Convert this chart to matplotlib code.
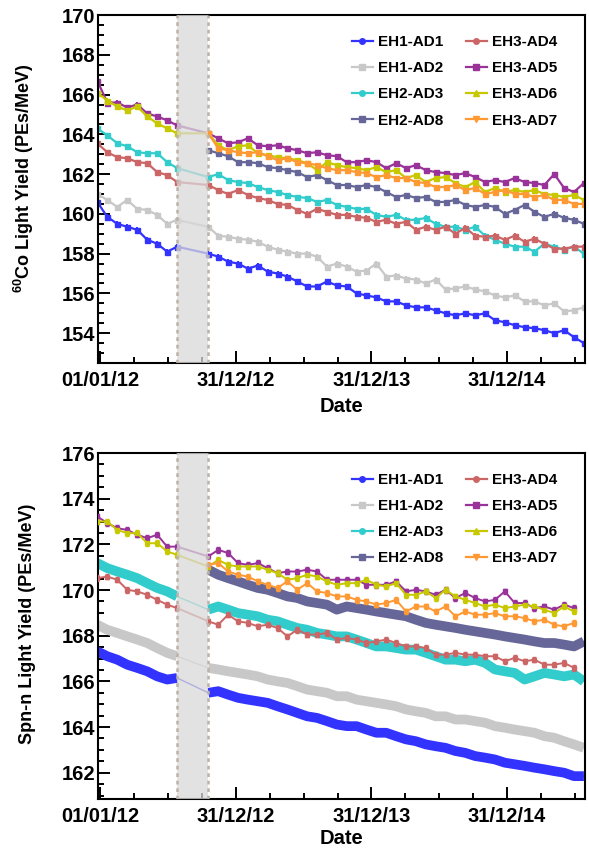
import numpy as np
import pandas as pd
import matplotlib
matplotlib.use("Agg")
import matplotlib.pyplot as plt
import matplotlib.dates as mdates
from matplotlib.lines import Line2D
from matplotlib.ticker import FixedLocator, MultipleLocator

plt.rcParams['font.family'] = ['Liberation Sans', 'DejaVu Sans']
plt.rcParams['font.weight'] = 'bold'
plt.rcParams['mathtext.fontset'] = 'custom'
plt.rcParams['mathtext.rm'] = 'Liberation Sans:bold'
plt.rcParams['mathtext.bf'] = 'Liberation Sans:bold'

# sampling dates (before / after the 2012 installation gap)
dates_1 = pd.date_range('2011-12-24', '2012-07-26', periods=9)
dates_2 = pd.date_range('2012-10-18', '2015-07-26', periods=39)
dates = dates_1.append(dates_2)
gap_start, gap_end = pd.Timestamp('2012-07-26'), pd.Timestamp('2012-10-17')
nan = np.nan
pre = [nan] * 9

labels = ['EH1-AD1', 'EH1-AD2', 'EH2-AD3', 'EH2-AD8',
          'EH3-AD4', 'EH3-AD5', 'EH3-AD6', 'EH3-AD7']
colors = ['#3333ff', '#c8c8c8', '#33cccc', '#666699',
          '#cc6666', '#993399', '#c8c800', '#ff9933']
markers = ['o', 's', 'o', 's', 'o', 's', '^', 'v']

# 60Co light yield (PEs/MeV)
co_ad1 = [160.6, 159.85, 159.5, 159.35, 159.2, 158.7, 158.5, 158.1, 158.35,
          158.0, 157.85, 157.6, 157.5, 157.25, 157.4, 157.1, 157.0, 156.85, 156.6,
          156.35, 156.35, 156.6, 156.4, 156.35, 156.0, 155.9, 155.8, 155.6, 155.6,
          155.4, 155.3, 155.3, 155.15, 155.0, 154.9, 155.0, 154.9, 155.0, 154.65,
          154.55, 154.4, 154.3, 154.25, 154.15, 154.0, 154.15, 153.8, 153.5]
co_ad2 = [161.0, 160.7, 160.35, 160.7, 160.25, 160.2, 159.95, 159.5, 159.7,
          159.35, 158.9, 158.85, 158.75, 158.7, 158.6, 158.35, 158.2, 158.1, 158.0,
          158.0, 157.85, 157.35, 157.5, 157.35, 157.1, 157.15, 157.5, 156.85, 156.9,
          156.75, 156.7, 156.5, 156.7, 156.2, 156.25, 156.35, 156.2, 156.1, 155.9,
          155.8, 155.9, 155.6, 155.6, 155.4, 155.5, 155.1, 155.15, 155.3]
co_ad3 = [164.3, 163.95, 163.55, 163.4, 163.1, 163.05, 163.05, 162.6, 162.3,
          161.85, 162.0, 161.7, 161.6, 161.55, 161.35, 161.2, 161.1, 160.95, 160.85,
          160.8, 160.6, 160.7, 160.45, 160.35, 160.25, 160.25, 159.95, 159.85, 159.95,
          159.7, 159.7, 159.8, 159.5, 159.35, 159.35, 159.2, 159.35, 158.9, 158.7,
          158.5, 158.35, 158.35, 158.1, 158.5, 158.35, 158.2, 158.35, 158.0]
co_ad8 = pre + [163.2, 163.05, 162.9, 162.6, 162.6, 162.55, 162.35, 162.3, 162.2, 162.1,
                161.85, 161.95, 161.7, 161.45, 161.45, 161.35, 161.45, 161.35, 161.1, 160.85,
                160.95, 160.8, 160.85, 160.6, 160.6, 160.7, 160.45, 160.35, 160.45, 160.35,
                160.0, 160.2, 160.45, 160.1, 159.85, 160.0, 159.8, 159.7, 159.5]
co_ad4 = [163.55, 163.1, 162.85, 162.8, 162.6, 162.55, 162.1, 161.95, 161.6,
          161.45, 161.2, 161.0, 161.2, 160.95, 160.8, 160.7, 160.5, 160.45, 160.2,
          160.0, 160.25, 160.1, 159.95, 159.95, 159.85, 159.8, 159.6, 159.7, 159.5,
          159.6, 159.2, 159.35, 159.2, 159.35, 159.0, 159.3, 158.9, 158.85, 158.9,
          158.7, 158.9, 158.6, 158.75, 158.5, 158.25, 158.25, 158.35, 158.35]
co_ad5 = [166.7, 165.6, 165.6, 165.35, 165.5, 165.05, 164.9, 164.7, 164.45,
          164.05, 163.8, 163.55, 163.6, 163.8, 163.45, 163.4, 163.45, 163.3, 163.2,
          163.05, 163.1, 162.95, 162.9, 162.6, 162.6, 162.7, 162.6, 162.3, 162.55,
          162.3, 162.45, 162.2, 162.1, 162.05, 161.95, 162.05, 161.85, 161.6, 161.7,
          161.6, 161.8, 161.6, 161.55, 161.45, 162.0, 161.3, 161.1, 161.55]
co_ad6 = [166.1, 165.7, 165.4, 165.2, 165.4, 164.9, 164.55, 164.3, 164.05,
          164.05, 163.45, 163.2, 163.4, 163.45, 163.05, 162.95, 162.85, 162.8, 162.7,
          162.55, 162.2, 162.6, 162.45, 162.35, 162.3, 162.2, 162.35, 162.1, 162.2,
          161.8, 161.95, 161.6, 161.8, 161.85, 161.55, 161.35, 161.6, 161.1, 161.3,
          161.1, 161.2, 161.1, 161.2, 161.0, 160.95, 160.85, 160.95, 160.7]
co_ad7 = pre + [164.05, 163.3, 163.2, 163.1, 163.05, 163.1, 162.9, 162.7, 162.8, 162.6,
                162.55, 162.45, 162.3, 162.2, 162.2, 162.1, 162.05, 161.85, 161.95, 161.8,
                161.8, 161.6, 161.55, 161.35, 161.35, 161.45, 161.2, 161.3, 161.0, 161.1,
                161.2, 161.0, 161.0, 160.85, 160.95, 160.7, 160.7, 160.5, 160.5]
co_err = 0.12

# spallation-neutron light yield (PEs/MeV)
spn_ad1 = [167.32, 167.1, 166.95, 166.73, 166.59, 166.44, 166.22, 166.08, 166.15,
           165.5, 165.57, 165.42, 165.28, 165.2, 165.13, 165.06, 164.91, 164.77, 164.62,
           164.47, 164.4, 164.26, 164.11, 164.04, 164.04, 163.89, 163.75, 163.75, 163.6,
           163.46, 163.38, 163.24, 163.16, 163.09, 162.95, 162.87, 162.73, 162.66, 162.58,
           162.44, 162.37, 162.3, 162.22, 162.15, 162.07, 162.0, 161.85, 161.85]
spn_ad2 = [168.48, 168.26, 168.12, 167.97, 167.83, 167.68, 167.46, 167.25, 167.1,
           166.59, 166.52, 166.44, 166.37, 166.3, 166.22, 166.08, 166.0, 165.93, 165.79,
           165.64, 165.57, 165.5, 165.35, 165.35, 165.2, 165.13, 165.06, 164.99, 164.91,
           164.77, 164.69, 164.62, 164.47, 164.47, 164.33, 164.33, 164.26, 164.19, 164.04,
           163.97, 163.89, 163.82, 163.75, 163.6, 163.53, 163.38, 163.24, 163.09]
spn_ad3 = [171.18, 170.96, 170.81, 170.67, 170.52, 170.3, 170.09, 169.94, 169.72,
           169.14, 169.28, 169.14, 168.99, 168.92, 168.85, 168.7, 168.63, 168.48, 168.34,
           168.26, 168.12, 168.05, 167.97, 167.97, 167.83, 167.68, 167.53, 167.53, 167.46,
           167.39, 167.39, 167.25, 167.1, 166.95, 166.95, 166.88, 166.95, 166.81, 166.52,
           166.44, 166.37, 166.08, 166.22, 166.37, 166.3, 166.22, 166.3, 166.0]
spn_ad8 = pre + [170.89, 170.67, 170.52, 170.38, 170.23, 170.09, 170.01, 169.87, 169.72, 169.65,
                 169.5, 169.43, 169.36, 169.14, 169.28, 169.21, 169.14, 169.06, 168.99, 168.92,
                 168.85, 168.7, 168.56, 168.48, 168.41, 168.34, 168.26, 168.19, 168.12, 168.05,
                 167.97, 167.9, 167.83, 167.75, 167.68, 167.68, 167.61, 167.53, 167.75]
spn_ad4 = [170.52, 170.59, 170.45, 170.01, 169.94, 169.79, 169.57, 169.36, 169.21,
           168.63, 168.48, 168.92, 168.63, 168.56, 168.41, 168.48, 168.34, 167.97, 168.26,
           168.05, 168.05, 168.12, 167.83, 167.9, 167.83, 167.68, 167.75, 167.83, 167.68,
           167.53, 167.53, 167.46, 167.17, 167.17, 167.25, 167.17, 167.17, 167.1, 167.1,
           166.88, 167.03, 166.88, 166.95, 166.73, 166.73, 166.81, 166.59, nan]
spn_ad5 = [173.22, 172.93, 172.71, 172.63, 172.42, 172.27, 172.42, 171.9, 171.9,
           171.47, 171.76, 171.62, 171.18, 171.1, 171.18, 170.96, 170.74, 170.81, 170.81,
           170.89, 170.81, 170.45, 170.45, 170.45, 170.45, 170.23, 170.23, 170.23, 170.38,
           169.94, 170.01, 169.94, 169.79, 170.01, 169.65, 169.87, 169.65, 169.5, 169.57,
           169.94, 169.43, 169.43, 169.21, 169.28, 169.14, 169.36, 169.21, nan]
spn_ad6 = [173.0, 173.0, 172.63, 172.49, 172.49, 172.05, 172.05, 171.69, 171.54,
           171.03, 171.32, 171.1, 171.03, 171.03, 171.03, 170.89, 170.74, 170.45, 170.52,
           170.67, 170.59, 170.38, 170.23, 170.3, 170.3, 170.45, 170.23, 170.16, 170.3,
           169.79, 169.79, 169.94, 169.65, 170.01, 169.72, 169.57, 169.43, 169.28, 169.36,
           169.21, 169.28, 169.36, 169.28, 169.14, 168.99, 169.28, 169.06, nan]
spn_ad7 = pre + [171.1, 171.18, 170.81, 170.67, 170.59, 170.38, 170.23, 170.09, 170.38, 170.01,
                 170.3, 169.94, 169.87, 169.72, 169.72, 169.57, 169.5, 169.36, 169.43, 169.57,
                 169.06, 169.28, 169.28, 169.06, 169.28, 168.85, 169.06, 168.92, 168.92, 168.99,
                 168.85, 168.85, 168.77, 168.63, 168.7, 168.48, 168.41, 168.56, nan]
spn_err = 0.12

co_series = [co_ad1, co_ad2, co_ad3, co_ad8, co_ad4, co_ad5, co_ad6, co_ad7]
spn_series = [spn_ad1, spn_ad2, spn_ad3, spn_ad8, spn_ad4, spn_ad5, spn_ad6, spn_ad7]
dense = [True, True, True, True, False, False, False, False]  # daily points in Spn-n panel

fig = plt.figure(figsize=(5.89, 8.48), dpi=100)
ax_top = fig.add_axes([0.1664, 0.5719, 0.8268, 0.4104])
ax_bot = fig.add_axes([0.1664, 0.0578, 0.8268, 0.4080])

t0 = mdates.date2num(pd.Timestamp('2012-01-01'))
major = [t0 + 365 * k for k in range(4)]
minor = [t0 + 91.25 * k for k in range(-1, 16)]
before = dates <= gap_start


def style_axes(ax, ylim, ylabel, ylab_y, xlab_y):
    ax.set_xlim(pd.Timestamp('2011-12-26'), pd.Timestamp('2015-07-29'))
    ax.set_ylim(*ylim)
    ax.xaxis.set_major_locator(FixedLocator(major))
    ax.xaxis.set_minor_locator(FixedLocator(minor))
    ax.xaxis.set_major_formatter(mdates.DateFormatter('%d/%m/%y'))
    ax.yaxis.set_major_locator(MultipleLocator(2))
    ax.yaxis.set_minor_locator(MultipleLocator(0.5))
    ax.tick_params(which='both', direction='in', top=False, right=False,
                   width=1.4, labelsize=14.5)
    ax.tick_params(which='major', length=8.5)
    ax.tick_params(which='minor', length=4.3)
    ax.tick_params(axis='x', pad=6)
    ax.tick_params(axis='y', pad=2)
    for s in ax.spines.values():
        s.set_linewidth(1.5)
    for lab in ax.get_xticklabels() + ax.get_yticklabels():
        lab.set_fontweight('bold')
    ax.set_xlabel('Date', fontsize=14.5, fontweight='bold')
    ax.xaxis.set_label_coords(0.5, xlab_y)
    ax.set_ylabel(ylabel, fontsize=13, fontweight='bold')
    ax.yaxis.set_label_coords(-0.128, ylab_y)
    # installation gap
    ax.axvspan(gap_start, gap_end, facecolor='#d9d9d9', alpha=0.75, lw=0, zorder=10)
    for d in (gap_start, gap_end):
        ax.axvline(d, color='#bdb2a8', lw=1.8, ls=(0, (1.5, 1.5)), zorder=11)
    handles = [Line2D([], [], color=c, marker=m, ms=4, lw=1.6)
               for c, m in zip(colors, markers)]
    ax.legend(handles, labels, ncol=2, loc='upper right', frameon=False,
              bbox_to_anchor=(0.962, 0.968), prop={'size': 11, 'weight': 'bold'},
              handlelength=1.35, handletextpad=0.35, columnspacing=1.5,
              labelspacing=0.79, borderaxespad=0.2)


# top panel: weekly 60Co points
for vals, c, m in zip(co_series, colors, markers):
    ax_top.errorbar(dates, vals, yerr=co_err, color=c, marker='s', ms=3.6,
                    lw=1.6, elinewidth=1.4, capsize=0)

# bottom panel
for vals, c, m, d in zip(spn_series, colors, markers, dense):
    vals = np.array(vals)
    if d:
        ax_bot.plot(dates, vals, color=c, lw=1.0)
        ax_bot.plot(dates[before], vals[before], color=c, lw=7, solid_capstyle='butt')
        ax_bot.plot(dates[~before], vals[~before], color=c, lw=7, solid_capstyle='butt')
    else:
        ax_bot.errorbar(dates, vals, yerr=spn_err, color=c, marker='s', ms=3.5,
                        lw=1.4, elinewidth=1.2, capsize=1.5, zorder=4)

style_axes(ax_top, (152.5, 170), r'$\mathbf{^{60}}$Co Light Yield (PEs/MeV)', 0.53, -0.098)
style_axes(ax_bot, (160.85, 176), 'Spn-n Light Yield (PEs/MeV)', 0.505, -0.088)

fig.savefig('out.png', dpi=100)
